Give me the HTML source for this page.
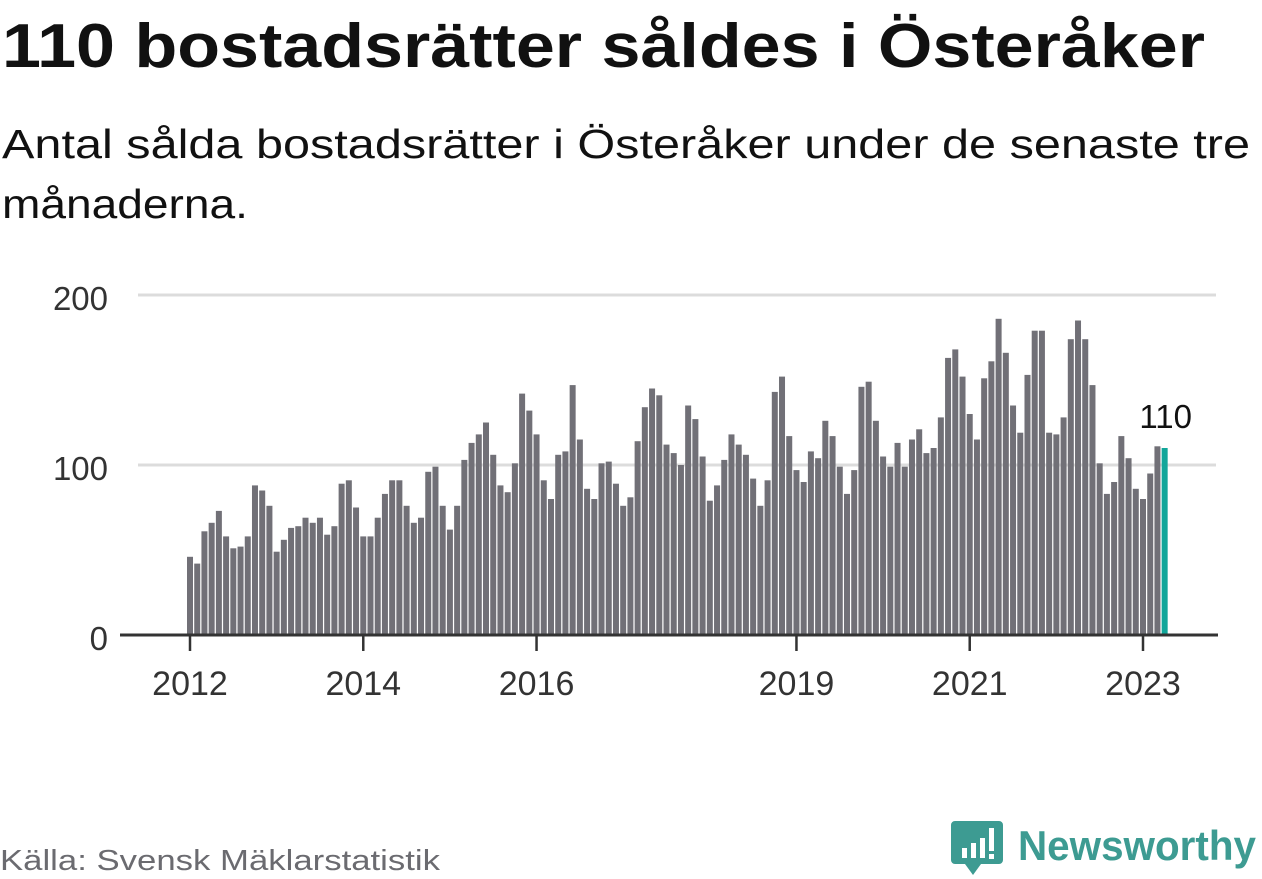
<!DOCTYPE html>
<html><head><meta charset="utf-8">
<style>
html,body{margin:0;padding:0;background:#fff;width:1262px;height:879px;overflow:hidden}
svg{display:block;font-family:"Liberation Sans","DejaVu Sans",sans-serif}
</style></head>
<body>
<svg id="chart" width="1262" height="879" viewBox="0 0 1262 879">
<text x="2" y="67" font-size="62" font-weight="bold" fill="#111" textLength="1203" lengthAdjust="spacingAndGlyphs">110 bostadsrätter såldes i Österåker</text>
<text x="2" y="158" font-size="41" fill="#111" textLength="1248" lengthAdjust="spacingAndGlyphs">Antal sålda bostadsrätter i Österåker under de senaste tre</text>
<text x="2" y="218" font-size="41" fill="#111" textLength="246" lengthAdjust="spacingAndGlyphs">månaderna.</text>
<g id="grid"></g>
<g id="bars"></g>
<g id="xaxis"></g>
<text x="0" y="870" font-size="29" fill="#6b6b70" textLength="440" lengthAdjust="spacingAndGlyphs">Källa: Svensk Mäklarstatistik</text>
<g>
<path d="M955 821 h44 a4 4 0 0 1 4 4 v35 a4 4 0 0 1 -4 4 h-18 l-8 11 l-8 -11 h-10 a4 4 0 0 1 -4 -4 v-35 a4 4 0 0 1 4 -4z" fill="#3d9b92"/>
<rect x="962" y="848" width="5" height="10" fill="#fff"/>
<rect x="971" y="843" width="5" height="15" fill="#fff"/>
<rect x="980" y="838" width="5" height="20" fill="#fff"/>
<rect x="989" y="828" width="5" height="23" fill="#fff"/>
<rect x="989" y="854" width="5" height="5" fill="#fff"/>
<text x="1018" y="860" font-size="42" font-weight="bold" fill="#3d9b92" textLength="238" lengthAdjust="spacingAndGlyphs">Newsworthy</text>
</g>
</svg>
<script>
const values = [46,42,61,66,73,58,51,52,58,88,85,76,49,56,63,64,69,66,69,59,64,89,91,75,58,58,69,83,91,91,76,66,69,96,99,76,62,76,103,113,118,125,106,88,84,101,
142,132,118,91,80,106,108,147,115,86,80,101,102,89,76,81,114,134,145,141,112,107,100,135,127,105,79,88,103,118,112,106,92,76,91,143,152,117,97,90,108,104,126,117,
99,83,97,146,149,126,105,99,113,99,115,121,107,110,128,163,168,152,130,115,151,161,186,166,135,119,153,179,179,119,118,128,174,185,174,147,101,83,90,117,104,86,80,95,111,110];
const yTicks = [0,100,200];
const xTickLabels = ["2012","2014","2016","2019","2021","2023"];
const xTickMonths = [0,24,48,84,108,132];
const lastLabel = "110";

const NS="http://www.w3.org/2000/svg";
const y0=635, pxPerUnit=1.7, x0=190, step=(1143-190)/132;
const yScale=v=>y0-v*pxPerUnit;
const xScale=i=>x0+i*step;
function mk(tag,attrs,parent){const e=document.createElementNS(NS,tag);for(const k in attrs)e.setAttribute(k,attrs[k]);parent.appendChild(e);return e;}
const grid=document.getElementById('grid'),bars=document.getElementById('bars'),xa=document.getElementById('xaxis');
yTicks.forEach(t=>{
  if(t>0){const l=mk('line',{x1:138,x2:1216,y1:yScale(t),y2:yScale(t),stroke:'#dcdcdc','stroke-width':3},grid);
  
  }
  const tx=mk('text',{x:108,y:yScale(t)+15,'font-size':33,fill:'#333','text-anchor':'end'},grid);
  tx.textContent=t;
  
  
});
values.forEach((v,i)=>{
  const last=i===values.length-1;
  const r=mk('rect',{x:xScale(i)-3,y:yScale(v),width:6,height:v*pxPerUnit,fill:last?'#11a69a':'#717077'},bars);
  
  
});
const lt=mk('text',{x:xScale(values.length-1)+1,y:yScale(values[values.length-1])-20,'font-size':33,fill:'#111','text-anchor':'middle'},bars);
lt.textContent=lastLabel;


const ax=mk('line',{x1:120,x2:1218,y1:y0,y2:y0,stroke:'#333','stroke-width':3},xa);


xTickMonths.forEach((m,k)=>{
  const tk=mk('line',{x1:xScale(m),x2:xScale(m),y1:y0,y2:y0+16,stroke:'#333','stroke-width':2.5},xa);
  
  
  const tx=mk('text',{x:xScale(m),y:695,'font-size':34,fill:'#333','text-anchor':'middle'},xa);
  tx.textContent=xTickLabels[k];
  
  
});
</script>
</body></html>
